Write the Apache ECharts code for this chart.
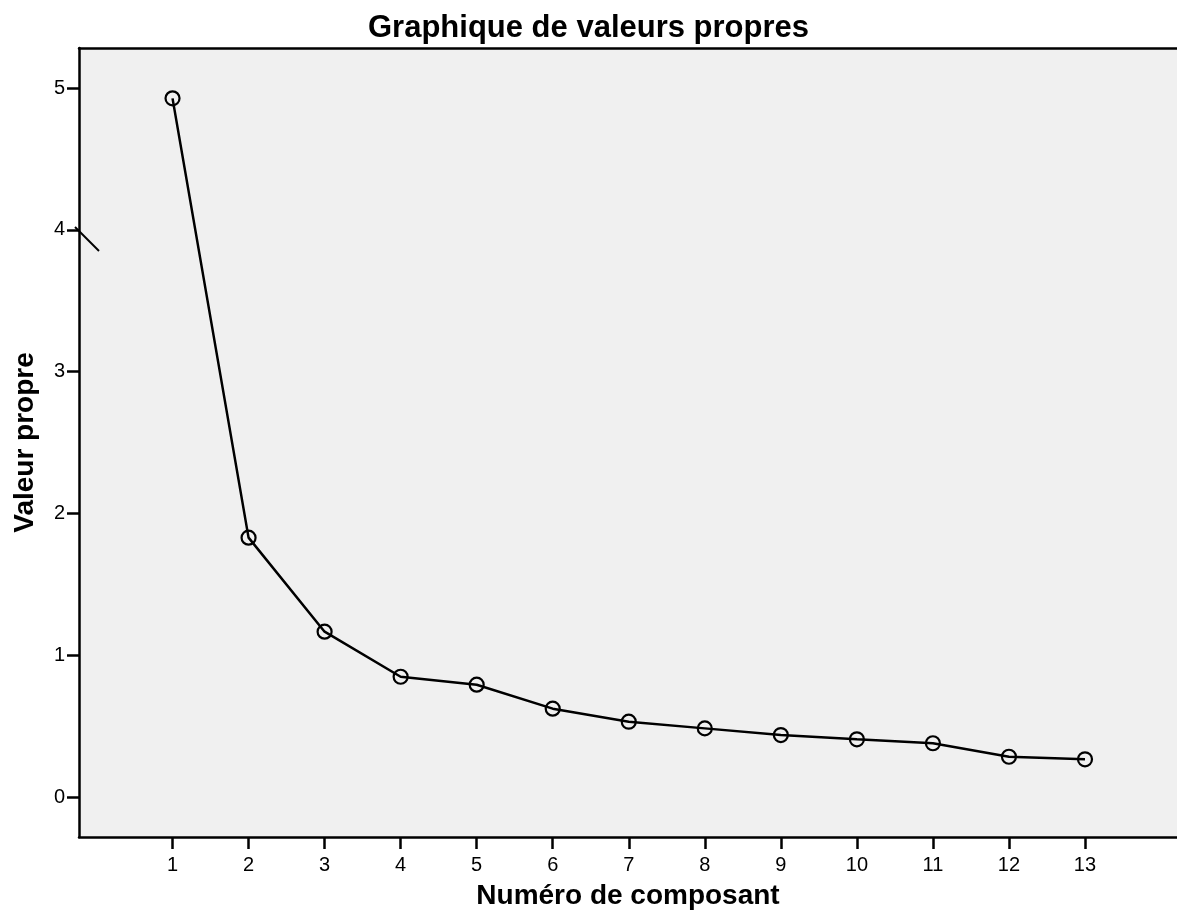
<!DOCTYPE html>
<html>
<head>
<meta charset="utf-8">
<script src="https://cdn.jsdelivr.net/npm/echarts@6/dist/echarts.min.js"></script>
<style>
  html, body { margin: 0; padding: 0; background: #fff; }
  #chart { width: 1177px; height: 924px; }
</style>
</head>
<body>
<div id="chart"></div>
<script>
// composantes et valeurs propres
var composants = [1, 2, 3, 4, 5, 6, 7, 8, 9, 10, 11, 12, 13]
var valeursPropres = [4.927, 1.829, 1.166, 0.848, 0.792, 0.623, 0.531, 0.484, 0.437, 0.407, 0.379, 0.284, 0.266]
var yTicks = [0, 1, 2, 3, 4, 5]

var font = 'Liberation Sans, Arial, sans-serif'
var myChart = echarts.init(document.getElementById('chart'))
myChart.setOption({
  animation: false,
  title: {
    text: 'Graphique de valeurs propres',
    left: 'center',
    top: 13,
    padding: 0,
    textStyle: { color: '#000', fontFamily: font, fontWeight: 'bold', fontSize: 31 }
  },
  grid: {
    left: 79,
    right: 0,
    top: 48,
    bottom: 87,
    show: true,
    backgroundColor: '#f0f0f0',
    borderWidth: 0
  },
  xAxis: [
    {
      type: 'value',
      min: -0.23,
      max: 14.21,
      name: 'Numéro de composant',
      nameLocation: 'middle',
      nameGap: 45,
      nameTextStyle: { color: '#000', fontFamily: font, fontWeight: 'bold', fontSize: 28 },
      axisLine: { onZero: false, lineStyle: { color: '#000', width: 2.5 } },
      axisTick: { customValues: composants, length: 12, lineStyle: { color: '#000', width: 2.5 } },
      axisLabel: { customValues: composants, margin: 18, color: '#000', fontFamily: font, fontSize: 20 },
      splitLine: { show: false }
    },
    {
      // bord supérieur du cadre
      type: 'value',
      position: 'top',
      min: -0.23,
      max: 14.21,
      axisLine: { onZero: false, lineStyle: { color: '#000', width: 2.5 } },
      axisTick: { show: false },
      axisLabel: { show: false },
      splitLine: { show: false }
    }
  ],
  yAxis: {
    type: 'value',
    min: -0.282,
    max: 5.282,
    name: 'Valeur propre',
    nameLocation: 'middle',
    nameGap: 40,
    nameTextStyle: { color: '#000', fontFamily: font, fontWeight: 'bold', fontSize: 28 },
    axisLine: { show: true, onZero: false, lineStyle: { color: '#000', width: 2.5 } },
    axisTick: { show: true, customValues: yTicks, length: 12, lineStyle: { color: '#000', width: 2.5 } },
    axisLabel: { customValues: yTicks, margin: 14, color: '#000', fontFamily: font, fontSize: 20, padding: [3, 0, 0, 0] },
    splitLine: { show: false }
  },
  graphic: [
    {
      type: 'line',
      shape: { x1: 75, y1: 227, x2: 99, y2: 251 },
      style: { stroke: '#000', lineWidth: 2 },
      z: 100
    }
  ],
  series: [
    {
      type: 'line',
      data: composants.map(function (c, i) { return [c, valeursPropres[i]] }),
      symbol: 'circle',
      symbolSize: 14,
      lineStyle: { color: '#000', width: 2.5 },
      itemStyle: { color: 'transparent', borderColor: '#000', borderWidth: 2.2 }
    }
  ]
})
</script>
</body>
</html>
